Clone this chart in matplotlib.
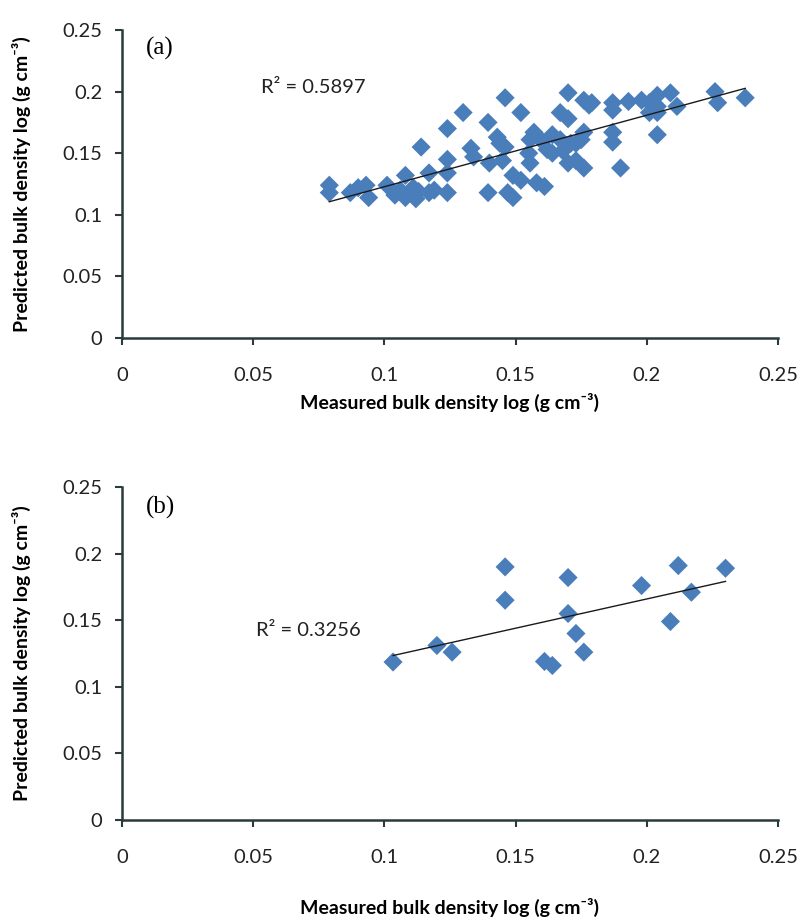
import numpy as np
import matplotlib.pyplot as plt

plt.rcParams['font.family'] = ['Lato', 'DejaVu Sans']

# panel (a): measured vs predicted (log bulk density)
meas_a = [0.079, 0.079, 0.087, 0.090, 0.093, 0.094, 0.101, 0.104, 0.106, 0.108,
          0.108, 0.110, 0.111, 0.112, 0.113, 0.114, 0.117, 0.117, 0.119, 0.124,
          0.124, 0.124, 0.124, 0.130, 0.133, 0.134, 0.1395, 0.1395, 0.140, 0.143,
          0.144, 0.146, 0.146, 0.145, 0.147, 0.149, 0.149, 0.152, 0.152, 0.1555,
          0.157, 0.1555, 0.158, 0.161, 0.164, 0.167, 0.164, 0.168, 0.167, 0.170,
          0.170, 0.170, 0.173, 0.176, 0.176, 0.178, 0.179, 0.176, 0.173, 0.175,
          0.171, 0.187, 0.187, 0.193, 0.198, 0.201, 0.204, 0.204, 0.201, 0.204,
          0.209, 0.2115, 0.226, 0.227, 0.2375, 0.187, 0.187, 0.204, 0.190, 0.160,
          0.155, 0.162]
pred_a = [0.124, 0.118, 0.118, 0.122, 0.124, 0.114, 0.124, 0.116, 0.120, 0.132,
          0.114, 0.118, 0.122, 0.113, 0.119, 0.155, 0.134, 0.118, 0.120, 0.118,
          0.145, 0.170, 0.134, 0.183, 0.154, 0.147, 0.175, 0.118, 0.142, 0.163,
          0.158, 0.195, 0.155, 0.144, 0.118, 0.114, 0.132, 0.128, 0.183, 0.142,
          0.167, 0.161, 0.126, 0.123, 0.165, 0.161, 0.150, 0.152, 0.183, 0.178,
          0.199, 0.142, 0.144, 0.138, 0.193, 0.189, 0.191, 0.167, 0.158, 0.161,
          0.158, 0.191, 0.185, 0.192, 0.193, 0.191, 0.197, 0.188, 0.183, 0.183,
          0.199, 0.188, 0.200, 0.191, 0.195, 0.167, 0.159, 0.165, 0.138, 0.160,
          0.150, 0.153]

# panel (b)
meas_b = [0.1033, 0.120, 0.1258, 0.146, 0.146, 0.161, 0.164, 0.170, 0.170,
          0.173, 0.176, 0.198, 0.209, 0.212, 0.217, 0.230]
pred_b = [0.1186, 0.131, 0.126, 0.190, 0.165, 0.119, 0.116, 0.182, 0.155,
          0.140, 0.126, 0.176, 0.149, 0.191, 0.171, 0.189]

panels = [("(a)", meas_a, pred_a, "R² = 0.5897", (0.053, 0.203), -0.178),
          ("(b)", meas_b, pred_b, "R² = 0.3256", (0.051, 0.1425), -0.234)]

ticks = [0, 0.05, 0.1, 0.15, 0.2, 0.25]
tick_labels = ["0", "0.05", "0.1", "0.15", "0.2", "0.25"]
blue = "#4a7ebb"
spine_col = "#2b3b3b"

fig = plt.figure(figsize=(8, 9.18), dpi=100)
boxes = [[0.1525, 0.6318, 0.82, 0.3355], [0.1525, 0.1068, 0.82, 0.3627]]

for box, (tag, xs, ys, r2, r2pos, xlab_y) in zip(boxes, panels):
    ax = fig.add_axes(box)
    xs = np.array(xs)
    ys = np.array(ys)
    ax.scatter(xs, ys, marker="D", s=95, color=blue, edgecolors="none", zorder=2)
    k, c = np.polyfit(xs, ys, 1)
    xl = np.array([xs.min(), xs.max()])
    ax.plot(xl, k * xl + c, color="#1a1a1a", lw=1.0, zorder=3)

    ax.set_xlim(0, 0.25)
    ax.set_ylim(0, 0.25)
    ax.set_xticks(ticks)
    ax.set_xticklabels(tick_labels)
    ax.set_yticks(ticks)
    ax.set_yticklabels(tick_labels)
    ax.tick_params(direction="out", length=5, width=1.5, color=spine_col,
                   labelsize=14.5, labelcolor="#222222")
    ax.tick_params(axis="x", pad=16)
    ax.tick_params(axis="y", pad=9)
    for s in ["top", "right"]:
        ax.spines[s].set_visible(False)
    for s in ["left", "bottom"]:
        ax.spines[s].set_color(spine_col)
        ax.spines[s].set_linewidth(1.8)

    ax.text(r2pos[0], r2pos[1], r2, fontsize=14.5, color="#222222", va="center")
    ax.text(0.009, 0.235, tag, fontsize=18, family="Liberation Serif", va="center")

    ax.set_xlabel("Measured bulk density log (g cm⁻³)", fontsize=14,
                  fontweight="bold")
    ax.xaxis.set_label_coords(0.5, xlab_y)
    ax.set_ylabel("Predicted bulk density log (g cm⁻³)", fontsize=14,
                  fontweight="bold", labelpad=23)

fig.savefig("out.png", dpi=100, facecolor="white")
